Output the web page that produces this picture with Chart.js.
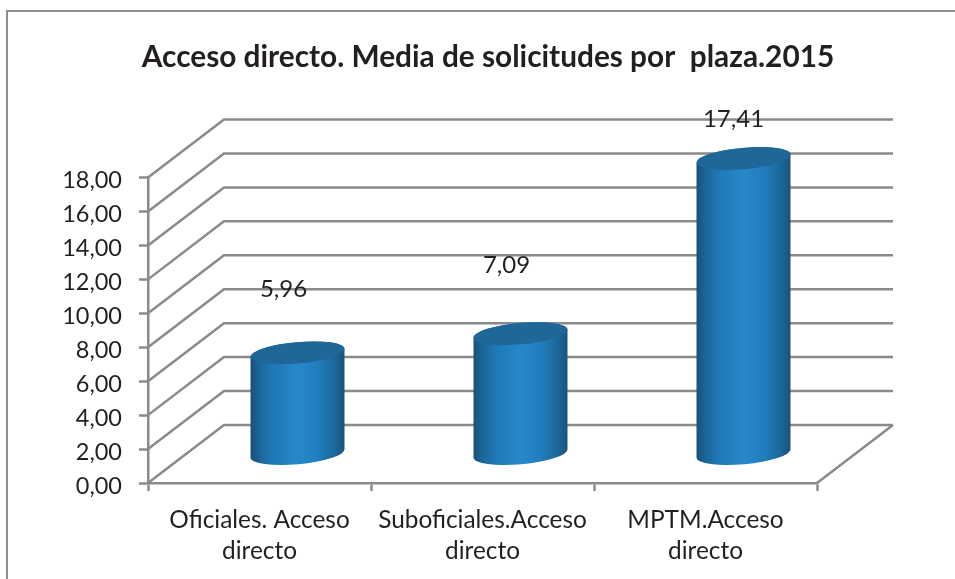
<!DOCTYPE html>
<html>
<head>
<meta charset="utf-8">
<style>html,body{margin:0;padding:0;background:#fff}canvas{display:block}</style>
<script src="https://cdn.jsdelivr.net/npm/chart.js@4"></script>
</head>
<body>
<canvas id="c" width="955" height="579"></canvas>
<script>
const titleText = 'Acceso directo. Media de solicitudes por  plaza.2015';
const categories = [['Oficiales. Acceso','directo'],['Suboficiales.Acceso','directo'],['MPTM.Acceso','directo']];
const values = [5.96, 7.09, 17.41];
const yMax = 18, yStep = 2;

const DEPTH_X = 76, DEPTH_Y = 58;
const INK = '#231f20', LINE = '#8a8a8a';
const FONT = 'Lato';
const labelShift = [[-14,-64],[-14,-68],[-10,-39]];
const fmt = v => Number(v).toFixed(2).replace('.', ',');

const { BarController, BarElement } = Chart;

class CylinderBar extends BarElement {
  static id = 'cylinderBar';
  draw(ctx) {
    const { x, y, base, width } = this.getProps(['x','y','base','width'], false);
    const rx = width / 2 * 1.004, ry = width * 0.114, rot = -5.1 * Math.PI / 180;
    const cx = x + DEPTH_X / 2, top = y - DEPTH_Y / 2, bot = base - DEPTH_Y / 2;
    const g = ctx.createLinearGradient(cx - width/2, 0, cx + width/2, 0);
    g.addColorStop(0, '#1a5078');
    g.addColorStop(0.1, '#1c669a');
    g.addColorStop(0.25, '#1f7ab8');
    g.addColorStop(0.5, '#2688cb');
    g.addColorStop(0.7, '#217fbf');
    g.addColorStop(0.88, '#1b6a9e');
    g.addColorStop(1, '#1c527a');
    ctx.save();
    ctx.beginPath();
    ctx.ellipse(cx, bot, rx, ry, rot, 0, Math.PI, false);
    ctx.ellipse(cx, top, rx, ry, rot, Math.PI, 0, false);
    ctx.closePath();
    ctx.fillStyle = g;
    ctx.fill();
    ctx.beginPath();
    ctx.ellipse(cx, top, rx, ry, rot, 0, Math.PI * 2);
    ctx.fillStyle = '#1e6798';
    ctx.fill();
    ctx.restore();
  }
}
class CylinderController extends BarController {
  static id = 'cylinder';
  static defaults = { dataElementType: 'cylinderBar' };
}
Chart.register(CylinderBar, CylinderController);

const scene = {
  id: 'scene',
  afterLayout(chart) {
    chart.titleBlock.left = 21;
    chart.titleBlock.right = 955;
  },
  beforeDraw(chart) {
    const c = chart.ctx;
    c.save();
    c.fillStyle = '#fff';
    c.fillRect(0, 0, chart.width, chart.height);
    c.strokeStyle = '#8f8f8f';
    c.lineWidth = 2;
    c.beginPath();
    c.moveTo(7, chart.height);
    c.lineTo(7, 11);
    c.lineTo(chart.width, 11);
    c.stroke();
    c.restore();
  },
  beforeDatasetsDraw(chart) {
    const c = chart.ctx, { x, y } = chart.scales;
    const l = x.left, r = x.right;
    c.save();
    c.strokeStyle = LINE;
    c.lineWidth = 2.5;
    c.lineJoin = 'miter';
    c.beginPath();
    y.ticks.forEach(t => {
      const py = y.getPixelForValue(t.value);
      c.moveTo(l, py);
      c.lineTo(l + DEPTH_X, py - DEPTH_Y);
      c.lineTo(r + DEPTH_X, py - DEPTH_Y);
    });
    const b = y.getPixelForValue(0);
    c.moveTo(r + DEPTH_X, b - DEPTH_Y);
    c.lineTo(r, b);
    c.stroke();
    c.restore();
  },
  afterDatasetsDraw(chart) {
    const c = chart.ctx;
    c.save();
    c.font = `24px ${FONT}`;
    c.fillStyle = INK;
    c.textAlign = 'center';
    c.textBaseline = 'middle';
    chart.getDatasetMeta(0).data.forEach((el, i) => {
      const s = labelShift[i];
      c.fillText(fmt(values[i]), el.x + DEPTH_X / 2 + s[0], el.y - DEPTH_Y / 2 + s[1]);
    });
    c.restore();
  }
};

new Chart(document.getElementById('c'), {
  type: 'cylinder',
  data: {
    labels: categories,
    datasets: [{ data: values, backgroundColor: '#2585c6', clip: false, barPercentage: 0.4215, categoryPercentage: 1 }]
  },
  options: {
    responsive: false,
    animation: false,
    layout: { padding: { left: 0, right: 138, top: 0, bottom: 0 } },
    plugins: {
      legend: { display: false },
      tooltip: { enabled: false },
      title: {
        display: true,
        text: titleText,
        color: INK,
        font: { family: FONT, size: 29.8, weight: 'bold', lineHeight: 1.2 },
        padding: { top: 40, bottom: 101.8 }
      }
    },
    scales: {
      x: {
        afterFit(s) { s.height = 96; },
        grid: { drawOnChartArea: false, tickColor: LINE, tickWidth: 2.5, tickLength: 8 },
        border: { color: LINE, width: 2.5 },
        ticks: {
          color: INK, maxRotation: 0, autoSkip: false, padding: 14,
          font: { family: FONT, size: 24.4, lineHeight: 1.27 }
        }
      },
      y: {
        min: 0, max: yMax,
        afterFit(s) { s.width = 148; },
        grid: { drawOnChartArea: false, tickColor: LINE, tickWidth: 2.5, tickLength: 9 },
        border: { color: LINE, width: 2.5 },
        ticks: {
          stepSize: yStep, color: INK, padding: 17, labelOffset: 3,
          font: { family: FONT, size: 23.5 },
          callback: v => fmt(v)
        }
      }
    }
  },
  plugins: [scene]
});
</script>
</body>
</html>
